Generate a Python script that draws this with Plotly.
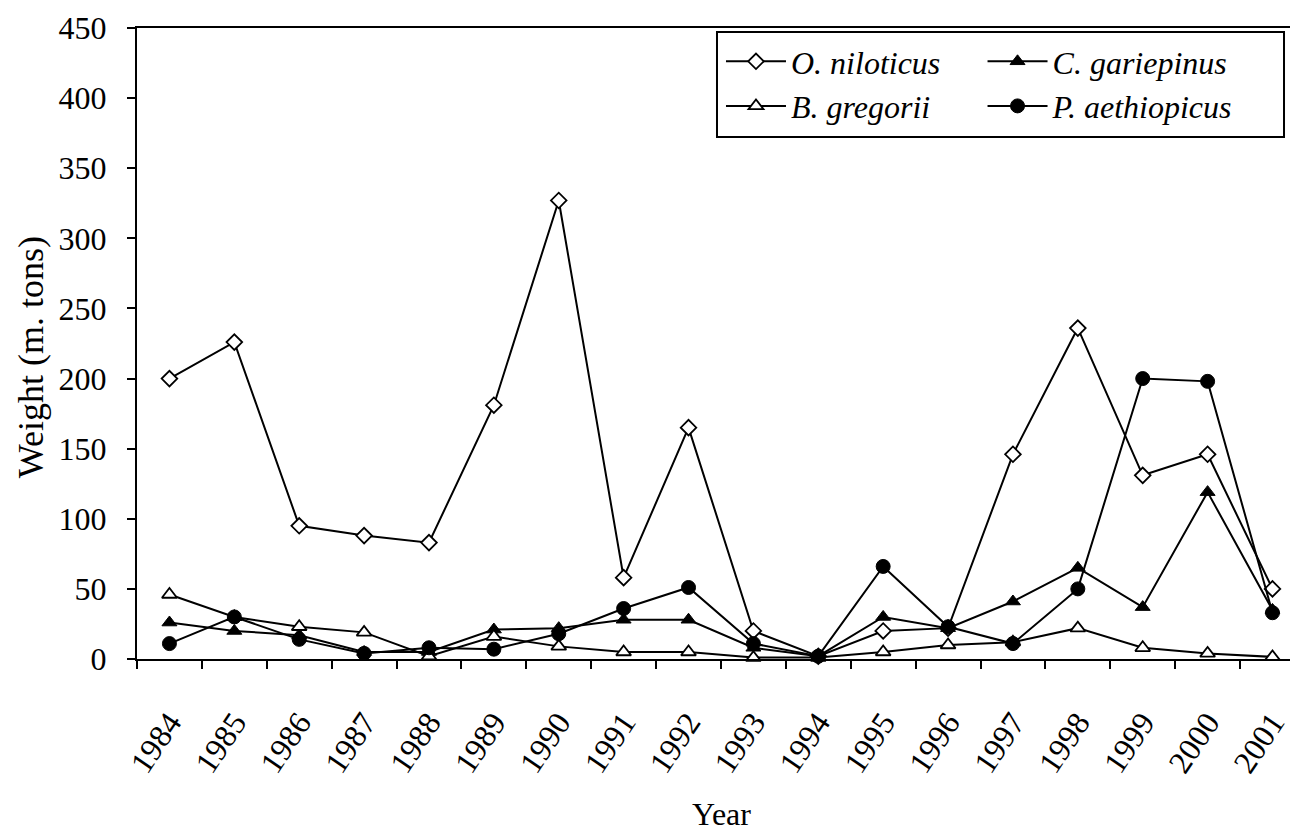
import plotly.graph_objects as go

years = [str(y) for y in range(1984, 2002)]
o_niloticus = [200, 226, 95, 88, 83, 181, 327, 58, 165, 20, 2, 20, 22, 146, 236, 131, 146, 50]
c_gariepinus = [26, 20, 17, 5, 5, 21, 22, 28, 28, 8, 2, 30, 22, 41, 65, 37, 119, 35]
b_gregorii = [46, 30, 23, 19, 2, 16, 9, 5, 5, 1, 1, 5, 10, 12, 22, 8, 4, 1.5]
p_aethiopicus = [11, 30, 14, 4, 8, 7, 18, 36, 51, 11, 2, 66, 23, 11, 50, 200, 198, 33]
y_ticks = [0, 50, 100, 150, 200, 250, 300, 350, 400, 450]

FONT = "Liberation Serif, Times New Roman, serif"
W, H = 1292, 837
L, R, T, B = 137, 0, 28, 178
pw, ph = W - L - R, H - T - B

def px(x):
    return (x - L) / pw

def py(y):
    return (H - B - y) / ph

fig = go.Figure()
line = dict(color="black", width=2)
fig.add_trace(go.Scatter(x=years, y=o_niloticus, name="<i>O. niloticus</i>", mode="lines+markers",
                         line=line, cliponaxis=False, legend="legend",
                         marker=dict(symbol="diamond", size=12, color="white",
                                     line=dict(color="black", width=1.8))))
fig.add_trace(go.Scatter(x=years, y=c_gariepinus, name="<i>C. gariepinus</i>", mode="lines+markers",
                         line=line, cliponaxis=False, legend="legend2",
                         marker=dict(symbol="triangle-up", size=13, color="black",
                                     line=dict(color="black", width=1))))
fig.add_trace(go.Scatter(x=years, y=b_gregorii, name="<i>B. gregorii</i>", mode="lines+markers",
                         line=line, cliponaxis=False, legend="legend",
                         marker=dict(symbol="triangle-up", size=13, color="white",
                                     line=dict(color="black", width=1.8))))
fig.add_trace(go.Scatter(x=years, y=p_aethiopicus, name="<i>P. aethiopicus</i>", mode="lines+markers",
                         line=line, cliponaxis=False, legend="legend2",
                         marker=dict(symbol="circle", size=14, color="black",
                                     line=dict(color="black", width=1))))

legfont = dict(family=FONT, size=32, color="black")
fig.update_layout(
    width=W, height=H,
    margin=dict(l=L, r=R, t=T, b=B),
    paper_bgcolor="white", plot_bgcolor="white",
    font=dict(family=FONT, color="black"),
    showlegend=True,
    legend=dict(x=px(722), y=py(34), xanchor="left", yanchor="top", font=legfont,
                bgcolor="rgba(0,0,0,0)", itemwidth=60, tracegroupgap=0, traceorder="normal"),
    legend2=dict(x=px(984), y=py(34), xanchor="left", yanchor="top", font=legfont,
                 bgcolor="rgba(0,0,0,0)", itemwidth=60, tracegroupgap=0, traceorder="normal"),
    xaxis=dict(type="category", range=[-0.5, 17.27], tickson="boundaries",
               ticks="outside", ticklen=8, tickwidth=2, tickcolor="black",
               showline=True, linecolor="black", linewidth=2, mirror=True,
               showgrid=False, zeroline=False, tickangle=-56, ticklabelstandoff=30,
               tickfont=dict(family=FONT, size=32, color="black")),
    yaxis=dict(range=[0, 450], tickvals=y_ticks, ticks="outside", ticklen=8, tickwidth=2,
               tickcolor="black", showline=True, linecolor="black", linewidth=2,
               showgrid=False, zeroline=False, ticklabelstandoff=14,
               tickfont=dict(family=FONT, size=32, color="black")),
    shapes=[dict(type="rect", xref="paper", yref="paper",
                 x0=px(718), x1=px(1286), y0=py(137), y1=py(32),
                 line=dict(color="black", width=2), fillcolor="rgba(0,0,0,0)")],
    annotations=[
        dict(text="Weight (m. tons)", textangle=-90, xref="paper", yref="paper",
             x=px(31), y=py(357), xanchor="center", yanchor="middle", showarrow=False,
             font=dict(family=FONT, size=36, color="black")),
        dict(text="Year", xref="paper", yref="paper", x=px(723), y=py(814),
             xanchor="center", yanchor="middle", showarrow=False,
             font=dict(family=FONT, size=32, color="black")),
    ],
)

fig.write_html("out.html")
